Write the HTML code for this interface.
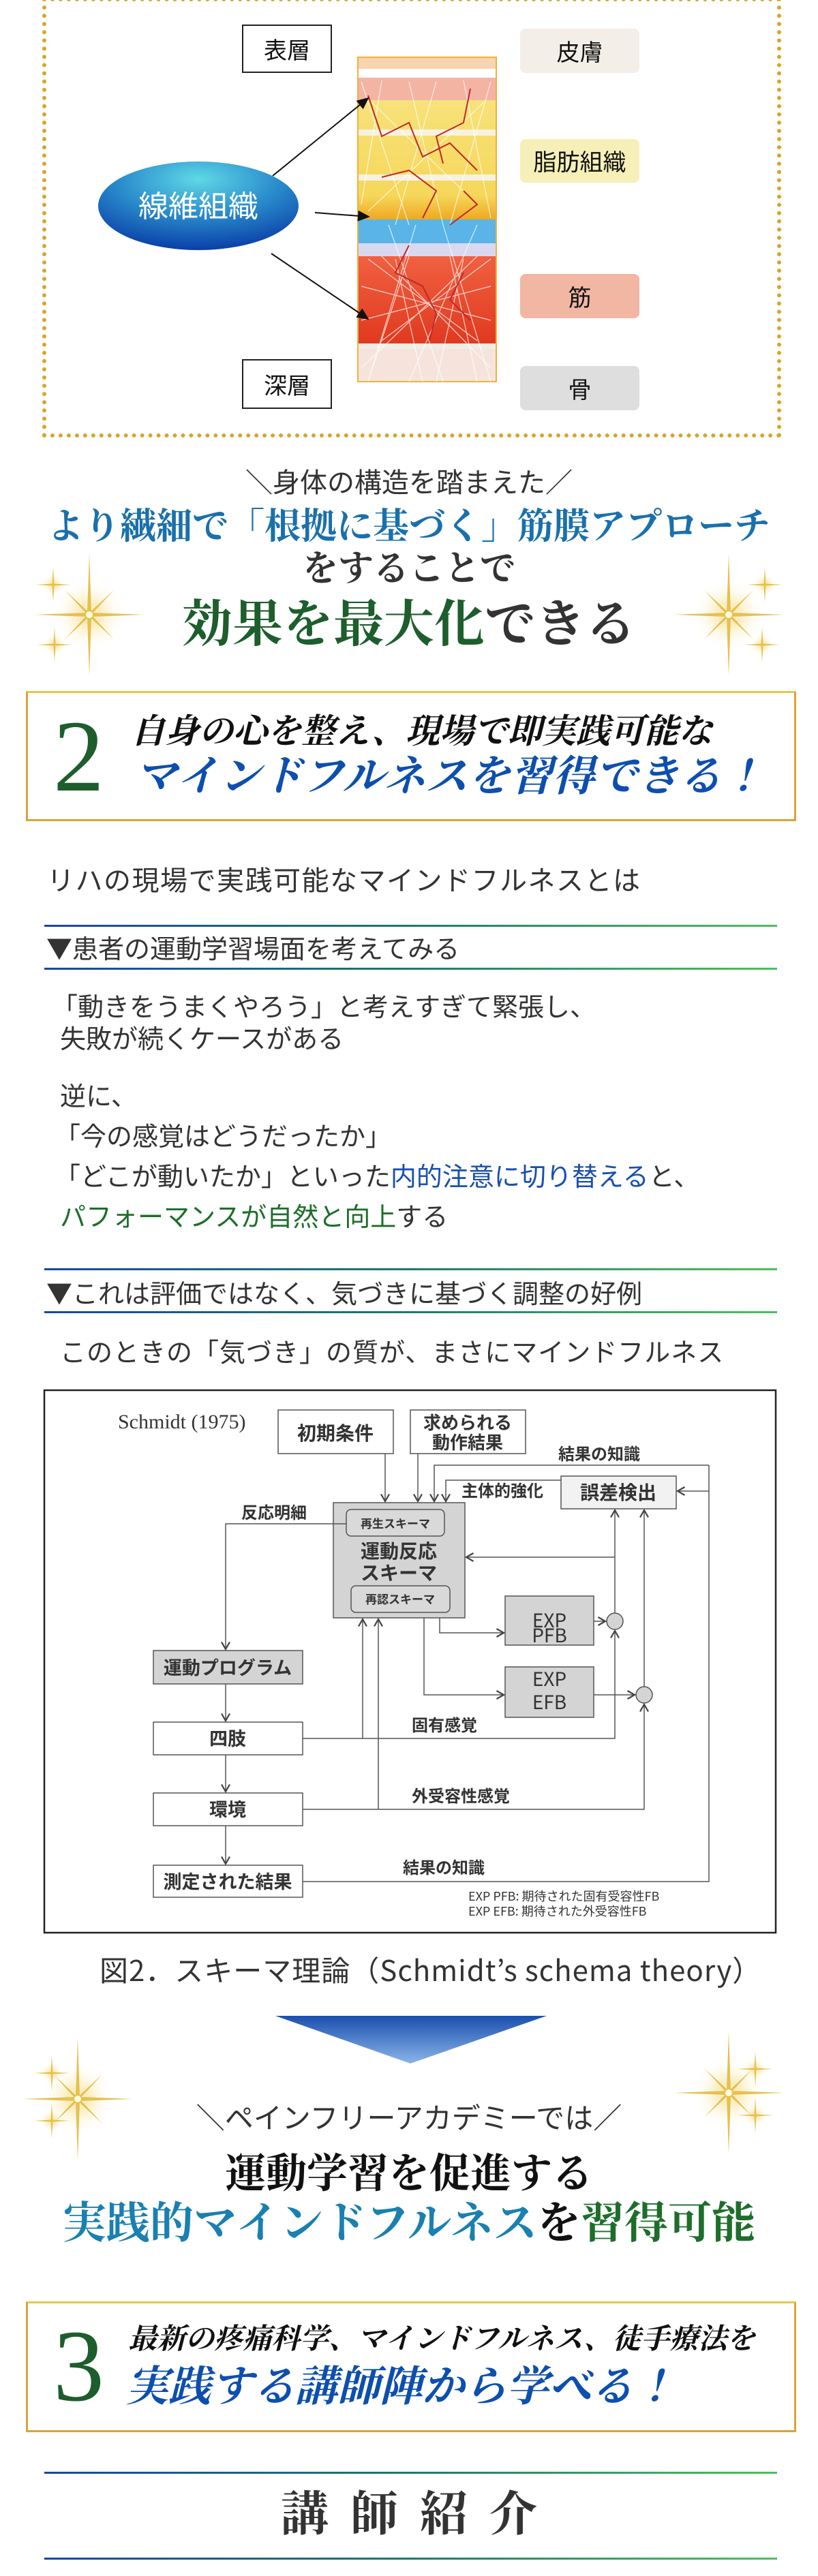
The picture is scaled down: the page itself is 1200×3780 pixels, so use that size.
<!DOCTYPE html>
<html><head><meta charset="utf-8"><style>
*{margin:0;padding:0;box-sizing:border-box}
body{width:1200px;height:3780px;position:relative;background:#fff;overflow:hidden;font-family:"Liberation Sans","Noto Sans CJK JP",sans-serif;color:#333}
.a{position:absolute;white-space:nowrap}
.serif{font-family:"Liberation Serif","Noto Serif CJK JP",serif;font-weight:bold}
.c{left:0;width:1200px;text-align:center}
.gl{position:absolute;left:65px;width:1075px;height:3px;background:linear-gradient(90deg,#1746a8,#1d7a6a 50%,#4cc05a)}
.lbl{position:absolute;border-radius:8px;text-align:center;font-size:34px;color:#111;font-family:"Noto Sans CJK JP",sans-serif}
.bx{position:absolute;border:2px solid #222;background:#fff;font-size:34px;text-align:center;color:#111;font-family:"Noto Sans CJK JP",sans-serif}
.gbox{position:absolute;left:38px;width:1130px;border:3px solid #d9a43a;border-top-color:#e6c84a}
.p{position:absolute;left:88px;font-size:38px;color:#333;font-family:"Noto Sans CJK JP",sans-serif;line-height:46px}
</style></head><body>

<div class="a" style="left:62px;top:-4px;width:1084px;height:646px;border:6px dotted #d4a72c"></div>
<div class="bx" style="left:355px;top:36px;width:132px;height:71px;line-height:67px">表層</div>
<div class="bx" style="left:355px;top:527px;width:132px;height:73px;line-height:69px">深層</div>
<div class="lbl" style="left:763px;top:42px;width:175px;height:65px;line-height:65px;background:#f3efe8">皮膚</div>
<div class="lbl" style="left:763px;top:204px;width:175px;height:64px;line-height:64px;background:#f6f0b8">脂肪組織</div>
<div class="lbl" style="left:763px;top:402px;width:175px;height:65px;line-height:65px;background:#f2b7a2">筋</div>
<div class="lbl" style="left:763px;top:537px;width:175px;height:65px;line-height:65px;background:#dedede">骨</div>

<svg class="a" style="left:0;top:0" width="1200" height="640">
<defs>
<radialGradient id="el" cx="50%" cy="20%" r="80%"><stop offset="0" stop-color="#5fd8e6"/><stop offset="0.5" stop-color="#2a8ccc"/><stop offset="1" stop-color="#0a3fa8"/></radialGradient>
<linearGradient id="yl" x1="0" y1="0" x2="0" y2="1"><stop offset="0" stop-color="#f7e27a"/><stop offset="0.8" stop-color="#f5d75a"/><stop offset="1" stop-color="#f0a820"/></linearGradient>
<linearGradient id="rd" x1="0" y1="0" x2="0" y2="1"><stop offset="0" stop-color="#f06040"/><stop offset="1" stop-color="#e03a20"/></linearGradient>
<marker id="ah" markerWidth="10" markerHeight="10" refX="8" refY="5" orient="auto"><path d="M0,1 L9,5 L0,9z" fill="#111"/></marker>
</defs>
<rect x="525" y="84" width="203" height="476" fill="#fff" stroke="#f0b040" stroke-width="2"/>
<rect x="526" y="85" width="201" height="16" fill="#f8d5b0"/>
<rect x="526" y="114" width="201" height="33" fill="#f4b4a4"/>
<rect x="526" y="147" width="201" height="175" fill="url(#yl)"/>
<rect x="526" y="190" width="201" height="9" fill="#f7f2e0"/>
<rect x="526" y="256" width="201" height="9" fill="#f7f2e0"/>
<rect x="526" y="322" width="201" height="35" fill="#5ab4e8"/>
<rect x="526" y="357" width="201" height="19" fill="#d8d8f0"/>
<rect x="526" y="376" width="201" height="128" fill="url(#rd)"/>
<rect x="526" y="504" width="201" height="8" fill="#f4ece4"/>
<rect x="526" y="512" width="201" height="47" fill="#f6e4dc"/>
<g stroke="#fff" stroke-width="1.2" opacity="0.75">
<path d="M530 120 L600 330 M560 118 L530 300 M600 120 L650 330 M640 120 L580 330 M680 118 L720 320 M720 120 L660 330 M545 150 L700 300 M710 150 L540 310 M570 330 L650 560 M610 330 L540 560 M650 330 L720 560 M700 330 L600 560 M540 380 L700 500 M720 380 L560 500 M580 380 L620 560 M680 380 L640 560 M530 420 L720 470 M530 470 L720 420 M600 376 L540 560 M660 376 L700 560 M560 376 L720 540 M700 376 L530 540"/>
</g>
<g stroke="#c0282a" stroke-width="2" fill="none">
<path d="M540 140 L560 200 L600 180 L620 230 L660 210 L700 250 M690 130 L680 180 L640 200 L650 240 M560 260 L600 250 L640 280 L620 320 M680 280 L700 300 L660 330 M600 360 L580 400 L620 420 L640 460 L630 500 M680 400 L660 440 L690 470"/>
</g>
<ellipse cx="291" cy="302" rx="147" ry="65" fill="url(#el)"/>
<text x="291" y="318" font-size="44" fill="#fff" text-anchor="middle" font-family="Noto Sans CJK JP,sans-serif">線維組織</text>
<line x1="400" y1="258" x2="540" y2="144" stroke="#111" stroke-width="2" marker-end="url(#ah)"/>
<line x1="462" y1="312" x2="541" y2="318" stroke="#111" stroke-width="2" marker-end="url(#ah)"/>
<line x1="398" y1="372" x2="540" y2="468" stroke="#111" stroke-width="2" marker-end="url(#ah)"/>
</svg>

<svg class="a" style="left:0;top:0" width="1200" height="3780">
<defs>
<radialGradient id="sg"><stop offset="0" stop-color="#fff8d0"/><stop offset="0.3" stop-color="#f4dc80" stop-opacity="0.5"/><stop offset="1" stop-color="#fff" stop-opacity="0"/></radialGradient>
<g id="sp"><circle r="55" fill="url(#sg)"/><path d="M0,-90 L3,-3 L80,0 L3,3 L0,90 L-3,3 L-80,0 L-3,-3z" fill="#e6c050"/><path d="M-36,-36 L1.5,-1.5 L36,36 L-1.5,1.5z M36,-36 L1.5,1.5 L-36,36 L-1.5,-1.5z" fill="#e6c050"/><circle r="5" fill="#fffbe0"/></g>
<g id="ss"><circle r="18" fill="url(#sg)"/><path d="M0,-26 L1.5,-1.5 L26,0 L1.5,1.5 L0,26 L-1.5,1.5 L-26,0 L-1.5,-1.5z" fill="#e6c050"/></g>
</defs>
<use href="#sp" x="131" y="902"/><use href="#ss" x="78" y="858"/><use href="#ss" x="80" y="946"/>
<use href="#sp" x="1069" y="902"/><use href="#ss" x="1122" y="858"/><use href="#ss" x="1118" y="946"/>
<use href="#sp" x="114" y="3080"/><use href="#ss" x="76" y="3042"/><use href="#ss" x="76" y="3112"/>
<use href="#sp" x="1069" y="3071"/><use href="#ss" x="1108" y="3036"/><use href="#ss" x="1108" y="3104"/>
<defs><linearGradient id="tri" x1="0" y1="0" x2="0" y2="1"><stop offset="0" stop-color="#1a4fae"/><stop offset="1" stop-color="#8ab4e8"/></linearGradient></defs>
<path d="M404 2958 L802 2958 L602 3028z" fill="url(#tri)"/>
</svg>

<div class="a c" style="top:681px;font-size:40px;line-height:48px;color:#333;font-family:'Noto Sans CJK JP',sans-serif">＼身体の構造を踏まえた／</div>
<div class="a c serif" style="top:744px;font-size:53px;line-height:58px;color:#1a70ab">より繊細で「根拠に基づく」筋膜アプローチ</div>
<div class="a c serif" style="top:808px;font-size:52px;line-height:56px;color:#333">をすることで</div>
<div class="a c serif" style="top:877px;font-size:74px;line-height:80px;color:#333"><span style="color:#1d5e2c">効果を最大化</span>できる</div>

<div class="gbox" style="top:1014px;height:191px"></div>
<div class="a serif" style="left:78px;top:1040px;font-size:150px;line-height:140px;color:#1d5e2c;font-weight:normal">2</div>
<div class="a serif" style="left:192px;top:1046px;font-size:50px;line-height:54px;color:#111;font-style:italic">自身の心を整え、現場で即実践可能な</div>
<div class="a serif" style="left:198px;top:1106px;font-size:62px;line-height:68px;color:#0d4fae;font-style:italic">マインドフルネスを習得できる！</div>

<div class="p" style="left:69px;top:1266px;font-size:40px;letter-spacing:1.5px">リハの現場で実践可能なマインドフルネスとは</div>
<div class="gl" style="top:1357px"></div>
<div class="p" style="left:68px;top:1367px;font-size:38px">▼患者の運動学習場面を考えてみる</div>
<div class="gl" style="top:1420px"></div>
<div class="p" style="left:76px;top:1452px">「動きをうまくやろう」と考えすぎて緊張し、</div>
<div class="p" style="top:1499px">失敗が続くケースがある</div>
<div class="p" style="top:1583px">逆に、</div>
<div class="p" style="left:80px;top:1642px">「今の感覚はどうだったか」</div>
<div class="p" style="left:80px;top:1701px">「どこが動いたか」といった<span style="color:#1a4fae">内的注意に切り替える</span>と、</div>
<div class="p" style="top:1760px"><span style="color:#1d6e2a">パフォーマンスが自然と向上</span>する</div>
<div class="gl" style="top:1861px"></div>
<div class="p" style="left:68px;top:1873px;font-size:38px">▼これは評価ではなく、気づきに基づく調整の好例</div>
<div class="gl" style="top:1924px"></div>
<div class="p" style="top:1959px;letter-spacing:1px">このときの「気づき」の質が、まさにマインドフルネス</div>

<svg class="a" style="left:0;top:2000px" width="1200" height="900" font-family="Noto Sans CJK JP,sans-serif">
<defs><marker id="v" markerWidth="10" markerHeight="10" refX="8" refY="5" orient="auto"><path d="M1,1 L8,5 L1,9" fill="none" stroke="#444" stroke-width="1.5"/></marker></defs>
<rect x="65" y="40" width="1073" height="796" fill="#fff" stroke="#222" stroke-width="2.5"/>
<text x="173" y="96" font-size="30" font-family="Liberation Serif,serif" fill="#333">Schmidt (1975)</text>
<g fill="#fff" stroke="#555" stroke-width="1.5">
<rect x="408" y="69" width="169" height="64"/>
<rect x="602" y="69" width="169" height="64"/>
<rect x="823" y="166" width="169" height="48" fill="#f2f2f2"/>
<rect x="489" y="205" width="193" height="169" fill="#d4d4d4"/>
<rect x="508" y="215" width="144" height="39" rx="7" fill="#d9d9d9"/>
<rect x="515" y="327" width="145" height="39" rx="7" fill="#d9d9d9"/>
<rect x="225" y="422" width="219" height="49" fill="#d4d4d4"/>
<rect x="225" y="527" width="219" height="48"/>
<rect x="225" y="631" width="219" height="48"/>
<rect x="225" y="737" width="219" height="47"/>
<rect x="741" y="342" width="130" height="72" fill="#d4d4d4"/>
<rect x="741" y="446" width="130" height="74" fill="#d4d4d4"/>
<circle cx="902" cy="379" r="12" fill="#d4d4d4"/>
<circle cx="945" cy="487" r="12" fill="#d4d4d4"/>
</g>
<g fill="none" stroke="#555" stroke-width="1.5">
<path d="M565 133 V203" marker-end="url(#v)"/>
<path d="M613 133 V203" marker-end="url(#v)"/>
<path d="M1040 150 H637 V203" marker-end="url(#v)"/>
<path d="M823 172 H654 V203" marker-end="url(#v)"/>
<path d="M1040 150 V761 H444"/>
<path d="M1040 188 H994" marker-end="url(#v)"/>
<path d="M508 236 H331 V420" marker-end="url(#v)"/>
<path d="M331 471 V525" marker-end="url(#v)"/>
<path d="M331 575 V629" marker-end="url(#v)"/>
<path d="M331 679 V735" marker-end="url(#v)"/>
<path d="M444 551 H902 V393" marker-end="url(#v)"/>
<path d="M532 551 V376" marker-end="url(#v)"/>
<path d="M444 655 H945 V501" marker-end="url(#v)"/>
<path d="M555 655 V376" marker-end="url(#v)"/>
<path d="M645 374 V396 H739" marker-end="url(#v)"/>
<path d="M622 374 V487 H739" marker-end="url(#v)"/>
<path d="M871 379 H888" marker-end="url(#v)"/>
<path d="M871 487 H931" marker-end="url(#v)"/>
<path d="M902 367 V216" marker-end="url(#v)"/>
<path d="M945 475 V216" marker-end="url(#v)"/>
<path d="M902 285 H684" marker-end="url(#v)"/>
</g>
<g fill="#333" text-anchor="middle" font-weight="bold">
<text x="492" y="113" font-size="28">初期条件</text>
<text x="686" y="97" font-size="26">求められる</text>
<text x="686" y="126" font-size="26">動作結果</text>
<text x="907" y="200" font-size="28">誤差検出</text>
<text x="580" y="242" font-size="17">再生スキーマ</text>
<text x="587" y="353" font-size="17">再認スキーマ</text>
<text x="585" y="286" font-size="28">運動反応</text>
<text x="585" y="318" font-size="28">スキーマ</text>
<text x="334" y="457" font-size="27">運動プログラム</text>
<text x="334" y="561" font-size="27">四肢</text>
<text x="334" y="665" font-size="27">環境</text>
<text x="334" y="771" font-size="27">測定された結果</text>
<text x="806" y="388" font-size="28" font-weight="normal">EXP</text><text x="806" y="410" font-size="28" font-weight="normal">PFB</text>
<text x="806" y="474" font-size="28" font-weight="normal">EXP</text><text x="806" y="508" font-size="28" font-weight="normal">EFB</text>
</g>
<g fill="#333" font-size="24" font-weight="bold">
<text x="819" y="142">結果の知識</text>
<text x="677" y="196">主体的強化</text>
<text x="354" y="228">反応明細</text>
<text x="604" y="540">固有感覚</text>
<text x="604" y="644">外受容性感覚</text>
<text x="591" y="749">結果の知識</text>
<text x="687" y="789" font-size="18" font-weight="normal">EXP PFB: 期待された固有受容性FB</text>
<text x="687" y="811" font-size="18" font-weight="normal">EXP EFB: 期待された外受容性FB</text>
</g>
</svg>
<div class="a" style="left:146px;top:2866px;font-size:42px;line-height:48px;color:#333;font-family:'Noto Sans CJK JP',sans-serif;letter-spacing:1px">図2．スキーマ理論（Schmidt’s schema theory）</div>

<div class="a c" style="top:3083px;font-size:42px;line-height:46px;color:#333;font-family:'Noto Sans CJK JP',sans-serif">＼ペインフリーアカデミーでは／</div>
<div class="a c serif" style="top:3158px;font-size:60px;line-height:64px;color:#111">運動学習を促進する</div>
<div class="a c serif" style="top:3228px;font-size:64px;line-height:70px;color:#1a80b0"><span>実践的マインドフルネス</span><span style="color:#111">を</span><span style="color:#1d6e2a">習得可能</span></div>

<div class="gbox" style="top:3377px;height:192px"></div>
<div class="a serif" style="left:78px;top:3402px;font-size:150px;line-height:140px;color:#1d5e2c;font-weight:normal">3</div>
<div class="a serif" style="left:188px;top:3410px;font-size:42px;line-height:46px;color:#111;font-style:italic">最新の疼痛科学、マインドフルネス、徒手療法を</div>
<div class="a serif" style="left:185px;top:3470px;font-size:62px;line-height:66px;color:#0d4fae;font-style:italic">実践する講師陣から学べる！</div>

<div class="gl" style="top:3627px"></div>
<div class="a c serif" style="top:3652px;font-size:70px;line-height:78px;color:#333;letter-spacing:32px;padding-left:32px">講師紹介</div>
<div class="gl" style="top:3753px"></div>
</body></html>
